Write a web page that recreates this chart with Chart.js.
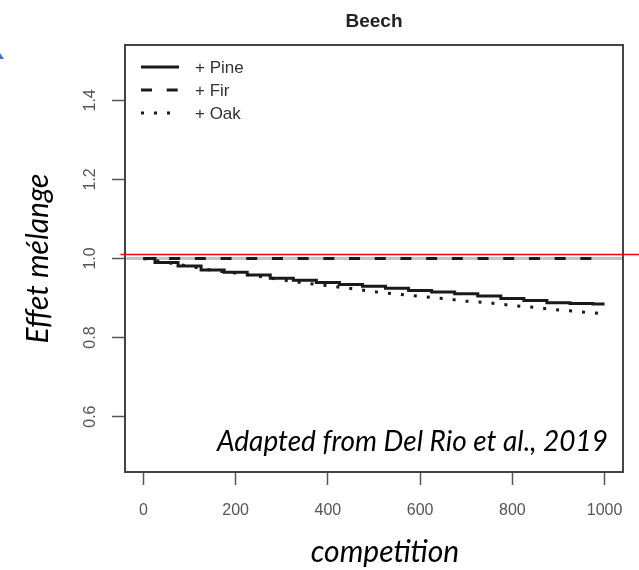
<!DOCTYPE html>
<html lang="fr">
<head>
<meta charset="utf-8">
<title>Beech – effet mélange</title>
<script src="https://cdn.jsdelivr.net/npm/chart.js@4.4.0/dist/chart.umd.min.js"></script>
<style>
  html, body { margin: 0; padding: 0; background: #fff; }
  #wrap { width: 639px; height: 570px; }
</style>
</head>
<body>
<div id="wrap"><canvas id="mixChart" width="639" height="570"></canvas></div>
<script>
  // ==================== Data ====================
  const competition = [0, 50, 100, 150, 200, 250, 300, 350, 400, 450, 500,
                       550, 600, 650, 700, 750, 800, 850, 900, 950, 1000];
  const pine = [1.000, 0.990, 0.981, 0.971, 0.965, 0.958, 0.950, 0.945, 0.939, 0.934, 0.930,
                0.925, 0.919, 0.915, 0.911, 0.905, 0.899, 0.894, 0.888, 0.886, 0.885];
  const fir  = [1.000, 1.000, 1.000, 1.000, 1.000, 1.000, 1.000, 1.000, 1.000, 1.000, 1.000,
                1.000, 1.000, 1.000, 1.000, 1.000, 1.000, 1.000, 1.000, 1.000, 1.000];
  const oak  = [1.000, 0.990, 0.980, 0.970, 0.963, 0.955, 0.946, 0.938, 0.931, 0.924, 0.916,
                0.910, 0.904, 0.899, 0.892, 0.888, 0.881, 0.876, 0.870, 0.865, 0.860];

  const xTicks = [0, 200, 400, 600, 800, 1000];
  const yTicks = [0.6, 0.8, 1.0, 1.2, 1.4];
  const xRange = [-40, 1040];
  const yRange = [0.46, 1.54];

  const neutralLevel = 1.0;   // grey abline
  const redLevel = 1.01;      // red reference line
  const redFrom = -50;

  const seriesNames = ['+ Pine', '+ Fir', '+ Oak'];

  // ==================== Styles ====================
  const INK = '#1a1a1a';
  const AXIS = '#555555';
  const LABEL_FONT = '"Liberation Sans", Arial, sans-serif';
  const NOTE_FONT = 'Lato, "Open Sans", sans-serif';

  const toPoints = ys => competition.map((x, i) => ({ x: x, y: ys[i] }));

  // ==================== Overlay plugin ====================
  const rDecor = {
    id: 'rDecor',
    beforeDatasetsDraw(chart) {
      const { ctx, chartArea: a, scales: { y } } = chart;
      const py = y.getPixelForValue(neutralLevel);
      ctx.save();
      ctx.strokeStyle = '#c4c4c4';
      ctx.lineWidth = 3;
      ctx.beginPath();
      ctx.moveTo(a.left, py);
      ctx.lineTo(a.right, py);
      ctx.stroke();
      ctx.restore();
    },
    afterDraw(chart) {
      const { ctx, chartArea: a, scales: { x, y } } = chart;
      ctx.save();

      // box around the panel
      ctx.strokeStyle = '#444';
      ctx.lineWidth = 2;
      ctx.strokeRect(a.left, a.top, a.right - a.left, a.bottom - a.top);

      // y tick labels, parallel to the axis
      ctx.fillStyle = AXIS;
      ctx.font = '16px ' + LABEL_FONT;
      ctx.textAlign = 'center';
      ctx.textBaseline = 'middle';
      y.ticks.forEach(t => {
        ctx.save();
        ctx.translate(a.left - 34, y.getPixelForValue(t.value));
        ctx.rotate(-Math.PI / 2);
        ctx.fillText(t.value.toFixed(1), 0, 0);
        ctx.restore();
      });

      // legend (no frame)
      const ds = chart.data.datasets;
      ds.forEach((d, i) => {
        const ly = a.top + 22 + i * 23;
        ctx.save();
        ctx.strokeStyle = d.borderColor;
        ctx.lineWidth = d.borderWidth;
        ctx.setLineDash(d.borderDash || []);
        ctx.beginPath();
        ctx.moveTo(a.left + 16, ly);
        ctx.lineTo(a.left + 54, ly);
        ctx.stroke();
        ctx.restore();
        ctx.fillStyle = '#333';
        ctx.font = '17px ' + LABEL_FONT;
        ctx.textAlign = 'left';
        ctx.textBaseline = 'middle';
        ctx.fillText(d.label, a.left + 70, ly + 1);
      });

      // panel title
      ctx.fillStyle = '#222';
      ctx.font = 'bold 19px ' + LABEL_FONT;
      ctx.textAlign = 'center';
      ctx.textBaseline = 'alphabetic';
      ctx.fillText('Beech', (a.left + a.right) / 2, 27);

      // red reference line, running out past the panel
      const ry = y.getPixelForValue(redLevel);
      ctx.strokeStyle = '#ff0000';
      ctx.lineWidth = 1.5;
      ctx.beginPath();
      ctx.moveTo(x.getPixelForValue(redFrom), ry);
      ctx.lineTo(chart.width, ry);
      ctx.stroke();

      // slide annotations
      ctx.fillStyle = '#000';
      ctx.font = 'italic 28px ' + NOTE_FONT;
      ctx.textAlign = 'right';
      ctx.fillText('Adapted from Del Rio et al., 2019', a.right - 15, a.bottom - 21);

      ctx.font = 'italic 30px ' + NOTE_FONT;
      ctx.textAlign = 'center';
      ctx.fillText('competition', (a.left + a.right) / 2 + 11, 562);

      ctx.save();
      ctx.translate(38, (a.top + a.bottom) / 2);
      ctx.rotate(-Math.PI / 2);
      ctx.textBaseline = 'middle';
      ctx.fillText('Effet mélange', 0, 0);
      ctx.restore();

      // tip of an arrow at the left edge
      ctx.fillStyle = '#4472c4';
      ctx.beginPath();
      ctx.moveTo(0, 53);
      ctx.lineTo(4, 59);
      ctx.lineTo(0, 59);
      ctx.closePath();
      ctx.fill();

      ctx.restore();
    }
  };

  // ==================== Chart ====================
  new Chart(document.getElementById('mixChart').getContext('2d'), {
    type: 'line',
    data: {
      datasets: [
        {
          label: seriesNames[0],
          data: toPoints(pine),
          borderColor: INK,
          borderWidth: 3,
          pointRadius: 0,
          stepped: 'middle'
        },
        {
          label: seriesNames[1],
          data: toPoints(fir),
          borderColor: INK,
          borderWidth: 3,
          borderDash: [11, 14.7],
          pointRadius: 0
        },
        {
          label: seriesNames[2],
          data: toPoints(oak),
          borderColor: INK,
          borderWidth: 3,
          borderDash: [3, 10],
          pointRadius: 0
        }
      ]
    },
    options: {
      responsive: false,
      animation: false,
      events: [],
      layout: { padding: { left: 0, right: 16, top: 45, bottom: 0 } },
      plugins: {
        legend: { display: false },
        title: { display: false },
        tooltip: { enabled: false }
      },
      scales: {
        x: {
          type: 'linear',
          min: xRange[0],
          max: xRange[1],
          afterBuildTicks: s => { s.ticks = xTicks.map(v => ({ value: v })); },
          afterFit: s => { s.height = 98; },
          border: { display: false },
          grid: {
            drawOnChartArea: false,
            drawTicks: true,
            tickLength: 13,
            tickWidth: 1.5,
            tickColor: AXIS
          },
          ticks: {
            color: AXIS,
            font: { family: LABEL_FONT, size: 16 },
            padding: 16,
            maxRotation: 0,
            callback: v => String(v)
          }
        },
        y: {
          type: 'linear',
          min: yRange[0],
          max: yRange[1],
          afterBuildTicks: s => { s.ticks = yTicks.map(v => ({ value: v })); },
          afterFit: s => { s.width = 125; },
          border: { display: false },
          grid: {
            drawOnChartArea: false,
            drawTicks: true,
            tickLength: 13,
            tickWidth: 1.5,
            tickColor: AXIS
          },
          ticks: { display: false }
        }
      }
    },
    plugins: [rDecor]
  });
</script>
</body>
</html>
